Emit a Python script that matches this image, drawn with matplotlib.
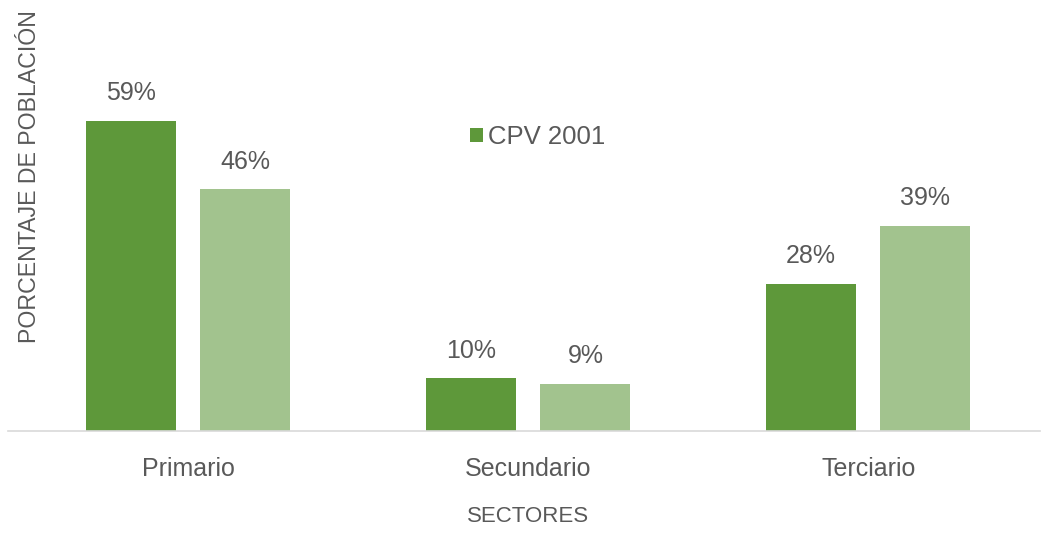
import matplotlib
matplotlib.use("Agg")
import matplotlib.pyplot as plt
import numpy as np

sectors = ["Primario", "Secundario", "Terciario"]
cpv_2001 = [59, 10, 28]
cpv_2011 = [46, 9, 39]
series_name = "CPV 2001"

dark_green = "#5e983a"
light_green = "#a2c38e"
text_gray = "#595959"

plt.rcParams["font.family"] = ["Liberation Sans", "DejaVu Sans"]

W, H = 1042, 533
fig = plt.figure(figsize=(W / 100, H / 100), dpi=100)
ax = fig.add_axes([8 / W, 1 - 431 / H, (1040 - 8) / W, (431 - 60) / H])

x = np.arange(len(sectors))
width = 0.265
offset = 0.168
b1 = ax.bar(x - offset, cpv_2001, width, color=dark_green, label=series_name)
b2 = ax.bar(x + offset, cpv_2011, width, color=light_green)

for bars, vals in ((b1, cpv_2001), (b2, cpv_2011)):
    for rect, v in zip(bars, vals):
        ax.annotate(f"{v}%", (rect.get_x() + rect.get_width() / 2, v),
                    xytext=(0, 11), textcoords="offset points",
                    ha="center", va="bottom", fontsize=18, color=text_gray)

ax.set_xlim(-0.53, 2.505)
ax.set_ylim(0, 70.5)
ax.set_yticks([])
ax.set_xticks(x)
ax.set_xticklabels(sectors, fontsize=18, color=text_gray)
ax.tick_params(axis="x", length=0, pad=19)
for side in ("top", "right", "left"):
    ax.spines[side].set_visible(False)
ax.spines["bottom"].set_color("#d9d9d9")
ax.spines["bottom"].set_linewidth(1.2)

fig.text(528 / W, 1 - 517 / H, "SECTORES", ha="center", va="center",
         fontsize=16, color=text_gray)
fig.text(30 / W, 1 - 177 / H, "PORCENTAJE DE POBLACIÓN", ha="center",
         va="center", rotation=90, fontsize=16.7, color=text_gray)

leg = ax.legend(handles=[b1], labels=[series_name], loc="center left",
                bbox_to_anchor=(470 / W, 1 - 137 / H),
                bbox_transform=fig.transFigure, frameon=False,
                fontsize=18.5, handlelength=0.5, handleheight=0.5,
                handletextpad=0.2, borderpad=0, borderaxespad=0,
                labelcolor=text_gray)

fig.savefig("out.png", dpi=100)
